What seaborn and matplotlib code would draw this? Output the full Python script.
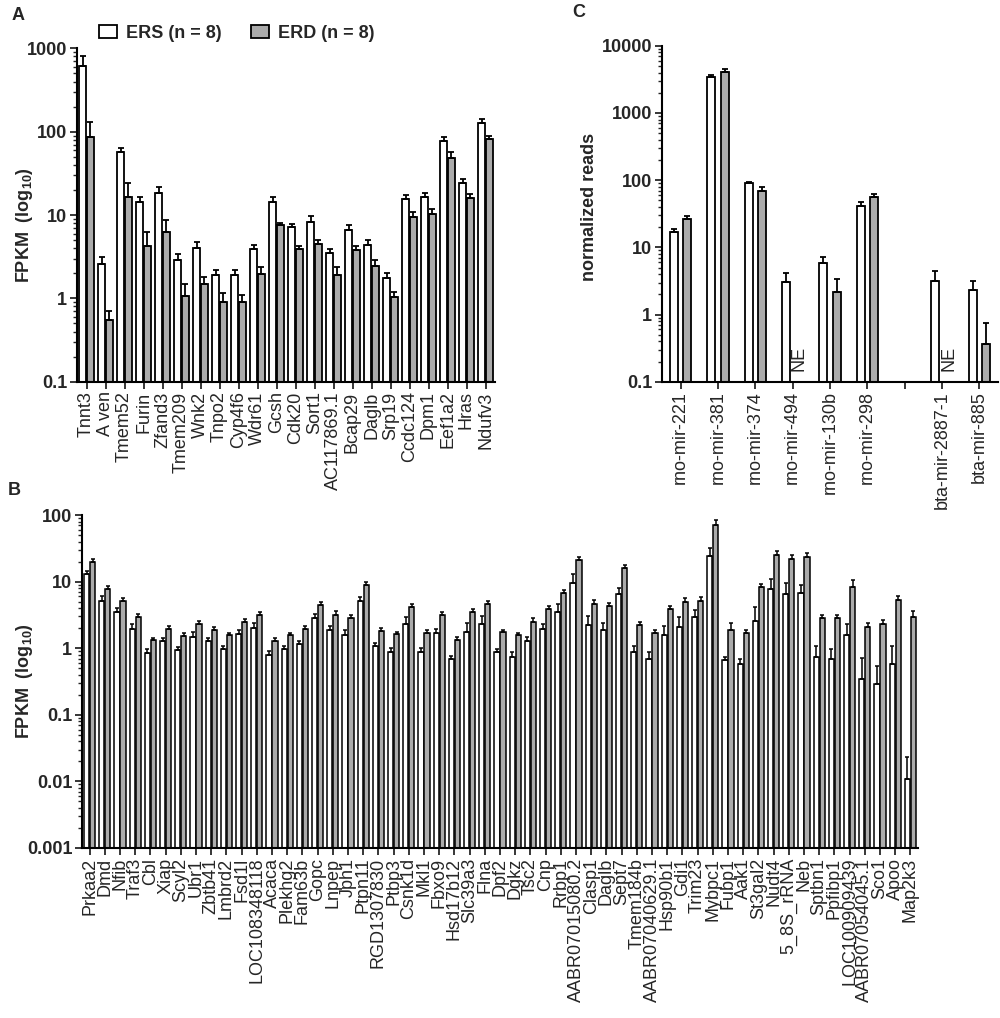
import numpy as np
import pandas as pd
import matplotlib
matplotlib.use('Agg')
import matplotlib.pyplot as plt
import seaborn as sns
from matplotlib.patches import Patch
from matplotlib.ticker import LogLocator, NullFormatter

sns.set_theme(style='ticks')
plt.rcParams['font.family'] = ['Liberation Sans', 'DejaVu Sans']
plt.rcParams['mathtext.fontset'] = 'custom'
plt.rcParams['mathtext.rm'] = 'Liberation Sans:bold'
plt.rcParams['mathtext.bf'] = 'Liberation Sans:bold'

# ---------------- data ----------------
groups = ['ERS (n = 8)', 'ERD (n = 8)']
group_colors = ['white', '#ababab']

a_genes = ['Tnnt3', 'A ven', 'Tmem52', 'Furin', 'Zfand3', 'Tmem209', 'Wnk2', 'Tnpo2',
           'Cyp4f6', 'Wdr61', 'Gcsh', 'Cdk20', 'Sort1', 'AC117869.1', 'Bcap29', 'Daglb',
           'Srp19', 'Ccdc124', 'Dpm1', 'Eef1a2', 'Hras', 'Ndufv3']
a_ers = [620, 2.6, 57, 14.3, 18.5, 2.9, 4.0, 1.89, 1.89, 3.87, 14.3, 7.1, 8.2, 3.47, 6.6,
         4.4, 1.74, 15.4, 16.5, 76.6, 24.3, 127]
a_ers_err = [190, 0.5, 7, 2.2, 3.3, 0.5, 0.7, 0.3, 0.3, 0.53, 2.2, 0.8, 1.5, 0.4, 0.9,
             0.56, 0.26, 2.0, 2.0, 9.4, 2.8, 16]
a_erd = [86, 0.55, 16.4, 4.3, 6.25, 1.07, 1.47, 0.91, 0.91, 1.94, 7.5, 3.87, 4.5, 1.89,
         3.77, 2.44, 1.05, 9.5, 10.3, 48.4, 15.8, 82.5]
a_erd_err = [46, 0.15, 7.6, 2.0, 2.45, 0.43, 0.32, 0.26, 0.19, 0.46, 0.6, 0.33, 0.5, 0.51,
             0.43, 0.42, 0.14, 1.3, 1.6, 8.6, 2.2, 6.5]

c_mirs = ['rno-mir-221', 'rno-mir-381', 'rno-mir-374', 'rno-mir-494', 'rno-mir-130b',
          'rno-mir-298', ' ', 'bta-mir-2887-1', 'bta-mir-885']
c_ers = [16.7, 3420, 91.4, 3.04, 5.9, 40.6, np.nan, 3.18, 2.29]
c_ers_err = [2.2, 200, 2, 1.16, 1.4, 7.4, np.nan, 1.32, 0.89]
c_erd = [26, 4050, 69.5, np.nan, 2.2, 57, np.nan, np.nan, 0.37]
c_erd_err = [3, 450, 8.5, np.nan, 1.2, 6, np.nan, np.nan, 0.38]
c_ne_label = 'NE'

b_genes = ['Prkaa2', 'Dmd', 'Nfib', 'Traf3', 'Cbl', 'Xiap', 'Scyl2', 'Ubr1', 'Zbtb41',
           'Lmbrd2', 'Fsd1l', 'LOC108348118', 'Acaca', 'Plekhg2', 'Fam63b', 'Gopc', 'Lnpep',
           'Jph1', 'Ptpn11', 'RGD1307830', 'Ptbp3', 'Csnk1d', 'Mkl1', 'Fbxo9', 'Hsd17b12',
           'Slc39a3', 'Flna', 'Dpf2', 'Dgkz', 'Tsc2', 'Cnp', 'Rrbp1', 'AABR07015080.2',
           'Clasp1', 'Daglb', 'Sept7', 'Tmem184b', 'AABR07040629.1', 'Hsp90b1', 'Gdi1',
           'Trim23', 'Mybpc1', 'Fubp1', 'Aak1', 'St3gal2', 'Nudt4', '5_8S_rRNA', 'Neb',
           'Sptbn1', 'Ppfibp1', 'LOC100909439', 'AABR07054045.1', 'Sco1', 'Apoo', 'Map2k3']
b_ers = [12.9, 5.2, 3.5, 1.93, 0.86, 1.29, 0.93, 1.5, 1.27, 0.97, 1.62, 2.04, 0.79, 0.97,
         1.15, 2.8, 1.86, 1.6, 5.2, 1.08, 0.89, 2.34, 0.89, 1.68, 0.68, 1.76, 2.34, 0.89,
         0.75, 1.29, 1.93, 3.5, 9.6, 2.2, 1.86, 6.6, 0.89, 0.68, 1.57, 2.1, 2.95, 24.3,
         0.66, 0.58, 2.6, 7.9, 6.45, 6.7, 0.75, 0.68, 1.58, 0.35, 0.29, 0.59, 0.011]
b_ers_err = [1.6, 0.8, 0.5, 0.35, 0.12, 0.15, 0.1, 0.25, 0.18, 0.1, 0.25, 0.35, 0.12, 0.12,
             0.15, 0.45, 0.3, 0.25, 0.7, 0.12, 0.12, 0.6, 0.12, 0.25, 0.08, 0.6, 0.7, 0.1,
             0.12, 0.2, 0.35, 1.2, 3.3, 0.86, 0.55, 1.4, 0.19, 0.2, 0.6, 0.85, 0.8, 8,
             0.08, 0.1, 1.6, 3.0, 3.1, 2.2, 0.33, 0.29, 0.7, 0.37, 0.25, 0.5, 0.012]
b_erd = [19.7, 7.9, 5.1, 2.95, 1.33, 1.93, 1.53, 2.29, 1.88, 1.57, 2.48, 3.16, 1.29, 1.57,
         1.93, 4.5, 3.2, 2.8, 8.8, 1.82, 1.62, 4.2, 1.68, 3.16, 1.33, 3.5, 4.7, 1.76,
         1.57, 2.5, 3.9, 6.7, 20.9, 4.7, 4.3, 15.8, 2.2, 1.68, 3.9, 5.0, 5.1, 72,
         1.88, 1.68, 8.3, 25, 22, 23.5, 2.8, 2.8, 8.3, 2.09, 2.29, 5.25, 2.98]
b_erd_err = [2.0, 0.7, 0.6, 0.3, 0.1, 0.2, 0.15, 0.25, 0.2, 0.15, 0.25, 0.3, 0.12, 0.15,
             0.2, 0.5, 0.4, 0.35, 1.0, 0.2, 0.15, 0.4, 0.2, 0.3, 0.15, 0.35, 0.5, 0.15,
             0.1, 0.3, 0.4, 0.8, 2.5, 0.6, 0.5, 2.0, 0.3, 0.2, 0.45, 0.6, 0.7, 12,
             0.5, 0.2, 1.0, 4.0, 3.0, 3.5, 0.4, 0.4, 2.3, 0.3, 0.35, 0.9, 0.6]

a_yticks = [0.1, 1, 10, 100, 1000]
a_ylabels = ['0.1', '1', '10', '100', '1000']
b_yticks = [0.001, 0.01, 0.1, 1, 10, 100]
b_ylabels = ['0.001', '0.01', '0.1', '1', '10', '100']
c_yticks = [0.1, 1, 10, 100, 1000, 10000]
c_ylabels = ['0.1', '1', '10', '100', '1000', '10000']


# ---------------- helpers ----------------
def panel(ax, cats, ers, erd, ers_err, erd_err, yticks, ylabels, xfs, capsize, lw,
          width, gap):
    rows = []
    for c, v1, v2 in zip(cats, ers, erd):
        if np.isfinite(v1):
            rows.append((c, groups[0], v1))
        if np.isfinite(v2):
            rows.append((c, groups[1], v2))
    df = pd.DataFrame(rows, columns=['cat', 'group', 'value'])
    sns.barplot(data=df, x='cat', y='value', hue='group', order=cats, hue_order=groups,
                palette=group_colors, edgecolor='black', linewidth=lw, width=width,
                gap=gap, errorbar=None, legend=False, ax=ax, saturation=1)
    ax.set_yscale('log', nonpositive='clip')
    errs = [ers_err, erd_err]
    containers = list(ax.containers)
    for hi, cont in enumerate(containers[:2]):
        xs, ys, es = [], [], []
        for bar in cont:
            h = bar.get_y() + bar.get_height()
            if not np.isfinite(h) or h <= 0:
                continue
            xc = bar.get_x() + bar.get_width() / 2
            ci = int(round(xc))
            e = errs[hi][ci]
            if not np.isfinite(e):
                continue
            xs.append(xc); ys.append(h); es.append(e)
        ax.errorbar(xs, ys, yerr=[np.zeros(len(es)), es], fmt='none', ecolor='black',
                    elinewidth=lw, capsize=capsize, capthick=lw, zorder=3)
    ax.set_ylim(yticks[0], yticks[-1])
    ax.set_yticks(yticks)
    ax.set_yticklabels(ylabels, fontsize=13, fontweight='bold')
    ax.yaxis.set_minor_locator(LogLocator(base=10, subs=np.arange(2, 10), numticks=20))
    ax.yaxis.set_minor_formatter(NullFormatter())
    ax.set_xlabel('')
    ax.set_xticks(range(len(cats)))
    ax.set_xticklabels(cats, rotation=90, fontsize=xfs)
    ax.tick_params(axis='both', which='major', length=5, width=1.3, direction='out', pad=2)
    ax.tick_params(axis='y', which='minor', length=3, width=1.0)
    for s in ['left', 'bottom']:
        ax.spines[s].set_linewidth(1.5)
        ax.spines[s].set_color('black')
    sns.despine(ax=ax)
    ax.set_xlim(-0.5, len(cats) - 0.5)


fig = plt.figure(figsize=(10, 10.18), dpi=100)

axA = fig.add_axes([0.077, 0.625, 0.418, 0.3275])
panel(axA, a_genes, a_ers, a_erd, a_ers_err, a_erd_err, a_yticks, a_ylabels, 13, 2.5, 1.3,
      0.8, 0.12)
axA.set_ylabel(r'FPKM  (log$_{\bf 10}$)', fontsize=13, fontweight='bold')
axA.yaxis.set_label_coords(-0.10, 0.47)

C_WIDTH = 0.72
axC = fig.add_axes([0.662, 0.625, 0.336, 0.33])
panel(axC, c_mirs, c_ers, c_erd, c_ers_err, c_erd_err, c_yticks, c_ylabels, 13, 2.5, 1.3,
      C_WIDTH, 0.4)
axC.set_ylabel('normalized reads', fontsize=13, fontweight='bold')
axC.yaxis.set_label_coords(-0.19, 0.52)
for i, (v1, v2) in enumerate(zip(c_ers, c_erd)):
    if np.isfinite(v1) and not np.isfinite(v2):
        axC.text(i + C_WIDTH / 4, 0.145, c_ne_label, rotation=90, ha='center', va='bottom',
                 fontsize=13)

axB = fig.add_axes([0.082, 0.167, 0.836, 0.327])
panel(axB, b_genes, b_ers, b_erd, b_ers_err, b_erd_err, b_yticks, b_ylabels, 13, 1.3, 1.1,
      0.78, 0.12)
axB.set_ylabel(r'FPKM  (log$_{\bf 10}$)', fontsize=13, fontweight='bold')
axB.yaxis.set_label_coords(-0.056, 0.5)

handles = [Patch(facecolor=c, edgecolor='black', linewidth=1.3, label=g)
           for g, c in zip(groups, group_colors)]
fig.legend(handles=handles, loc='center', bbox_to_anchor=(0.237, 0.967), ncol=2,
           frameon=False, prop={'weight': 'bold', 'size': 13}, handlelength=1.0,
           handleheight=0.75, columnspacing=1.6, handletextpad=0.5)

fig.text(0.012, 0.985, 'A', fontsize=13, fontweight='bold', va='center')
fig.text(0.008, 0.518, 'B', fontsize=13, fontweight='bold', va='center')
fig.text(0.572, 0.988, 'C', fontsize=13, fontweight='bold', va='center')

fig.savefig('out.png', dpi=100)
